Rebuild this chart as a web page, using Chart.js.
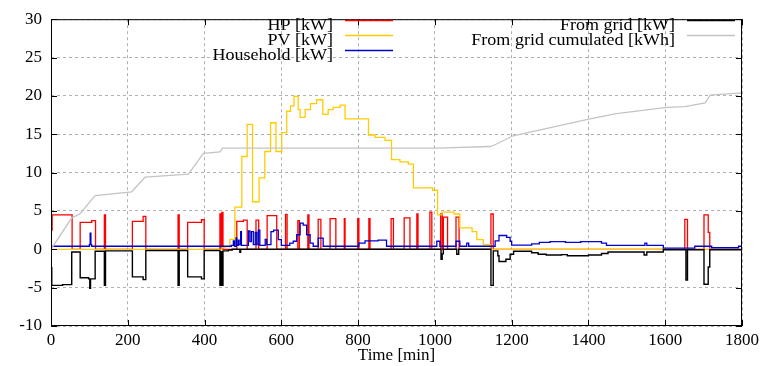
<!DOCTYPE html>
<html>
<head>
<meta charset="utf-8">
<script src="https://cdn.jsdelivr.net/npm/chart.js@4/dist/chart.umd.min.js"></script>
<style>
  html, body { margin: 0; padding: 0; background: #fff; }
</style>
</head>
<body>
<canvas id="power-chart" width="765" height="366"></canvas>
<script>
// values: change points (value holds until next time)
const hpTime = [0, 3, 55, 76, 106, 116, 139, 142, 212, 240, 247, 331, 334, 356, 392, 399, 440, 443, 445, 448,
  484, 501, 511, 534, 541, 563, 588, 611, 615, 643, 647, 669, 672, 696, 703, 727, 742, 764, 766, 799, 802, 828, 831,
  886, 892, 920, 935, 953, 956, 987, 992, 1015, 1019, 1022, 1033, 1055, 1063, 1146, 1152, 1651, 1658, 1701, 1712, 1716, 1800]
const hpKw = [2.5, 4.5, 0, 3.5, 3.75, 0, 4.5, 0, 3.65, 4.3, 0, 4.5, 0, 3.5, 3.85, 0, 4.6, 0, 4.8, 0,
  3.65, 3.8, 0, 3.8, 0, 4.4, 0, 4.55, 0, 3.75, 0, 4.5, 0, 3.9, 0, 4.0, 0, 4.0, 0, 4.0, 0, 4.0, 0,
  4.0, 0, 4.1, 0, 4.6, 0, 4.85, 0, 4.6, 0, 4.2, 0, 4.2, 0, 4.6, 0, 3.9, 0, 4.5, 2.2, 0, 0]

const pvTime = [0, 445, 453, 466, 479, 497, 511, 525, 542, 557, 572, 586, 601, 614, 624, 633, 644, 649, 662, 676,
  692, 708, 722, 735, 753, 766, 827, 844, 870, 887, 909, 931, 944, 994, 1007, 1018, 1050, 1065, 1097, 1109, 1126, 1144, 1800]
const pvKw = [0, 0.2, 0.35, 1.3, 5.5, 12.1, 16.3, 6.2, 9.3, 12.75, 16.5, 12.75, 15.2, 18.0, 18.7, 19.95, 18.2, 17.2, 18.2, 19.0,
  19.5, 17.6, 18.2, 18.5, 18.8, 17.0, 14.9, 14.6, 14.2, 11.7, 11.4, 11.1, 8.0, 7.7, 4.5, 4.85, 4.6, 2.8, 2.3, 1.25, 0.6, 0, 0]

const houseTime = [0, 100, 102, 104, 106, 470, 475, 478, 482, 484, 488, 490, 494, 496, 514, 518, 522, 527, 532, 536,
  540, 544, 558, 562, 573, 580, 592, 600, 622, 631, 640, 649, 657, 666, 675, 683, 696, 709, 802, 818, 852, 874,
  1005, 1013, 1055, 1065, 1083, 1088, 1157, 1167, 1187, 1196, 1200, 1252, 1272, 1300, 1340, 1380, 1434, 1447,
  1547, 1552, 1595, 1677, 1721, 1791, 1800]
const houseKw = [0.4, 0.6, 2.1, 0.6, 0.4, 0.5, 1.1, 0.4, 1.5, 0.5, 1.2, 0.6, 2.3, 0.5, 2.4, 1.0, 2.3, 0.6, 2.2, 0.6,
  2.5, 0.5, 1.3, 0.6, 2.3, 2.5, 1.25, 0.5, 0.8, 1.05, 1.9, 3.4, 3.15, 1.9, 0.8, 0.4, 1.45, 0.4, 0.8, 1.1, 1.2, 0.4,
  1.05, 0.4, 1.05, 0.4, 0.8, 0.4, 1.1, 1.8, 1.55, 1.05, 0.55, 0.7, 0.9, 1.0, 0.9, 1.0, 0.8, 0.5,
  0.8, 0.5, 0.15, 0.4, 0.2, 0.4, 0.4]

const gridTime = [0, 2, 30, 54, 76, 98, 101, 103, 115, 139, 142, 212, 240, 247, 331, 334, 356, 392, 399, 440, 443, 445, 448,
  462, 472, 492, 494, 1016, 1019, 1022, 1057, 1062, 1146, 1152, 1164, 1167, 1185, 1196, 1205, 1252, 1269, 1290,
  1330, 1345, 1400, 1434, 1451, 1545, 1552, 1595, 1654, 1658, 1701, 1712, 1716, 1800]
const gridKw = [-2.4, -4.7, -4.6, -0.35, -3.7, -3.85, -5.1, -3.85, -0.25, -4.7, -0.2, -3.6, -3.95, -0.15, -4.7, -0.15, -3.6, -3.85, -0.15, -4.7, -0.3, -4.7, -0.2,
  -0.1, 0, -0.4, 0, -1.3, -0.6, 0, -0.65, 0, -4.7, -0.2, -0.85, -1.6, -1.3, -0.65, -0.25, -0.45, -0.65, -0.75,
  -0.7, -0.85, -0.75, -0.55, -0.35, -0.75, -0.35, -0.05, -4.0, -0.05, -4.55, -2.3, -0.05, -0.05]

const cumTime = [0, 54, 75, 115, 210, 245, 358, 397, 440, 447, 1005, 1144, 1155, 1204, 1404, 1473, 1604, 1651, 1704, 1717, 1800]
const cumKwh = [0, 4.1, 4.6, 7.0, 7.5, 9.4, 9.8, 12.5, 12.7, 13.2, 13.2, 13.4, 13.6, 14.8, 17.0, 17.7, 18.5, 18.6, 19.1, 20.1, 20.4]

const xTicks = { min: 0, max: 1800, step: 200 }
const yTicks = { min: -10, max: 30, step: 5 }

const zip = (xs, ys) => xs.map((x, i) => ({ x, y: ys[i] }))

const SERIES = [
  { label: 'HP [kW]', data: zip(hpTime, hpKw), color: '#ff0000', stepped: true, order: 5, col: 0, row: 0 },
  { label: 'PV [kW]', data: zip(pvTime, pvKw), color: '#ffcc00', stepped: true, order: 4, col: 0, row: 1 },
  { label: 'Household [kW]', data: zip(houseTime, houseKw), color: '#0000cc', stepped: true, order: 3, col: 0, row: 2 },
  { label: 'From grid [kW]', data: zip(gridTime, gridKw), color: '#000000', stepped: true, order: 2, col: 1, row: 0 },
  { label: 'From grid cumulated [kWh]', data: zip(cumTime, cumKwh), color: '#c4c4c4', stepped: false, order: 1, col: 1, row: 1 }
]

const FONT = 'Liberation Serif'

/* gnuplot style frame with inward tick marks */
const framePlugin = {
  id: 'frame',
  afterDatasetsDraw(chart) {
    const { ctx, chartArea: a, scales: { x, y } } = chart
    ctx.save()
    ctx.strokeStyle = '#000'
    ctx.lineWidth = 1
    ctx.strokeRect(a.left + 0.5, a.top + 0.5, a.right - a.left - 1, a.bottom - a.top - 1)
    ctx.beginPath()
    x.ticks.forEach((t) => {
      const px = Math.round(x.getPixelForValue(t.value)) + 0.5
      ctx.moveTo(px, a.bottom); ctx.lineTo(px, a.bottom - 6)
      ctx.moveTo(px, a.top); ctx.lineTo(px, a.top + 6)
    })
    y.ticks.forEach((t) => {
      const py = Math.round(y.getPixelForValue(t.value)) + 0.5
      ctx.moveTo(a.left, py); ctx.lineTo(a.left + 6, py)
      ctx.moveTo(a.right, py); ctx.lineTo(a.right - 6, py)
    })
    ctx.stroke()
    ctx.restore()
  }
}

/* legend: text right aligned, sample line after it */
const keyPlugin = {
  id: 'key',
  afterDraw(chart) {
    const { ctx } = chart
    const cols = [{ textRight: 333, x0: 345, x1: 393 }, { textRight: 675, x0: 687, x1: 735 }]
    ctx.save()
    ctx.font = `17px "${FONT}"`
    ctx.textAlign = 'right'
    ctx.textBaseline = 'alphabetic'
    SERIES.forEach((s) => {
      const c = cols[s.col]
      const base = 30 + s.row * 15
      // slightly wider glyphs, like the picture
      ctx.save()
      ctx.translate(c.textRight, base)
      ctx.scale(1.06, 1)
      ctx.fillStyle = '#000'
      ctx.fillText(s.label, 0, 0)
      ctx.restore()
      ctx.strokeStyle = s.color
      ctx.lineWidth = 1.5
      ctx.beginPath()
      ctx.moveTo(c.x0, base - 9.5)
      ctx.lineTo(c.x1, base - 9.5)
      ctx.stroke()
    })
    ctx.restore()
  }
}

const gridLines = {
  color: '#b0b0b0',
  lineWidth: 1,
  drawTicks: false,
  borderDash: [3, 3]
}

const tickFont = { family: FONT, size: 17 }

new Chart(document.getElementById('power-chart'), {
  type: 'line',
  data: {
    datasets: SERIES.map((s) => ({
      label: s.label,
      data: s.data,
      borderColor: s.color,
      backgroundColor: s.color,
      borderWidth: s.col === 1 && s.row === 0 ? 1.4 : 1.3,
      stepped: s.stepped,
      pointRadius: 0,
      fill: false,
      tension: 0,
      order: s.order
    }))
  },
  options: {
    responsive: false,
    animation: false,
    layout: { padding: { top: 10, right: 23, left: 0, bottom: 0 } },
    plugins: { legend: { display: false }, tooltip: { enabled: false } },
    scales: {
      x: {
        type: 'linear',
        min: xTicks.min,
        max: xTicks.max,
        afterFit: (scale) => { scale.height = 40 },
        ticks: { stepSize: xTicks.step, padding: 4, color: '#000', font: tickFont, callback: (v) => String(v) },
        grid: gridLines,
        border: { display: false, dash: [3, 3] },
        title: { display: true, text: 'Time [min]', color: '#000', padding: { top: 0, bottom: 0 }, font: tickFont }
      },
      y: {
        min: yTicks.min,
        max: yTicks.max,
        afterFit: (scale) => { scale.width = 51 },
        ticks: { stepSize: yTicks.step, padding: 9, color: '#000', font: tickFont, callback: (v) => String(v) },
        grid: gridLines,
        border: { display: false, dash: [3, 3] }
      }
    }
  },
  plugins: [framePlugin, keyPlugin]
})
</script>
</body>
</html>
